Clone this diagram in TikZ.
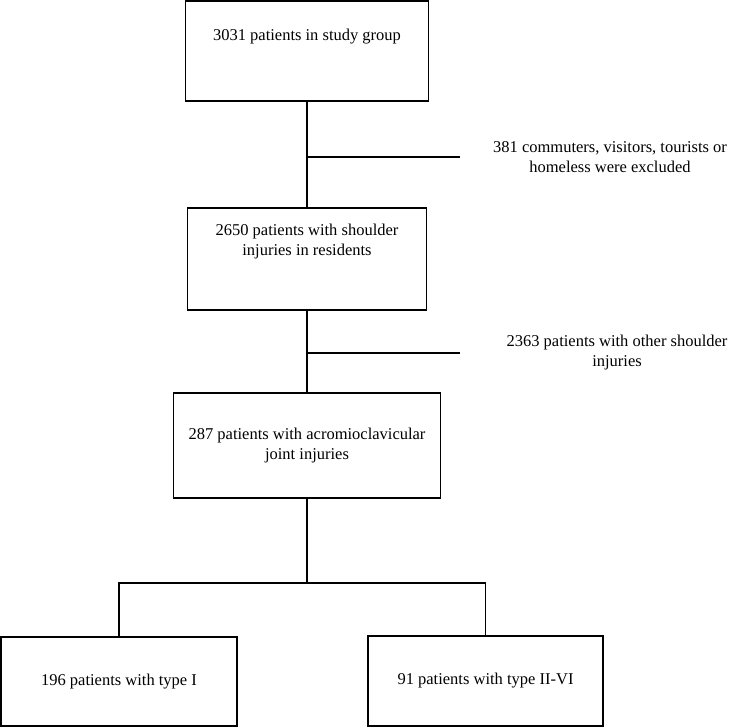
\documentclass[tikz,border=0pt]{standalone}
\usepackage{fontspec}
\setmainfont{Liberation Serif}
\usepackage{tikz}
\usetikzlibrary{positioning,calc}

\begin{document}
\begin{tikzpicture}[
  x=1pt, y=-1pt,
  box/.style={draw, line width=1.2pt, inner sep=0pt, align=center,
              font=\fontsize{16.5}{20}\selectfont},
  note/.style={align=center, inner sep=0pt, font=\fontsize{16.5}{20}\selectfont},
  link/.style={line width=1.2pt},
]
\useasboundingbox (0,0) rectangle (751,727);

% Row 1: Study group
\node[box, minimum width=243pt, minimum height=100pt, text depth=31.6pt] (b1) at (307,51)
  {3031 patients in study group};
\node[note] (x1) at (610,157) {381 commuters, visitors, tourists or\\homeless were excluded};

% Row 2: Residents
\node[box, minimum width=239pt, minimum height=102pt, text depth=37.6pt] (b2) at (307,259)
  {2650 patients with shoulder\\injuries in residents};
\node[note] (x2) at (617,353) {2363 patients with other shoulder\\injuries};

% Row 3: AC joint
\node[box, minimum width=267pt, minimum height=105pt] (b3) at (307,445.5)
  {287 patients with acromioclavicular\\joint injuries};

% Row 4: Types
\node[box, minimum width=236pt, minimum height=89pt] (b4) at (119,681.5) {196 patients with type I};
\node[box, minimum width=235pt, minimum height=90pt] (b5) at (485.5,681) {91 patients with type II-VI};

\coordinate (j1) at (307,157);
\coordinate (j1end) at (460,157);
\coordinate (j2) at (307,353);
\coordinate (j2end) at (460,353);
\coordinate (split) at (307,583);

\draw[link] (b1) -- (b2);
\draw[link] (j1) -- (j1end);
\draw[link] (b2) -- (b3);
\draw[link] (j2) -- (j2end);
\draw[link] (b3) -- (split);
\draw[link] (b4) |- (split) -| (b5);
\end{tikzpicture}
\end{document}
